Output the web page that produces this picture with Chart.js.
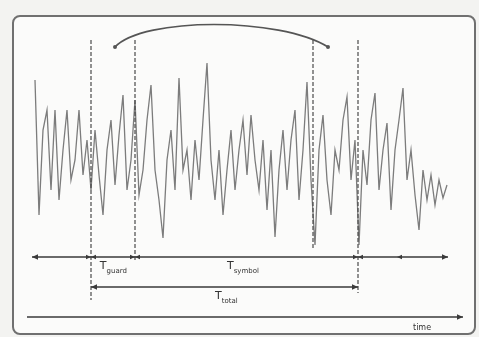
<!DOCTYPE html>
<html lang="en">
<head>
  <meta charset="UTF-8">
  <title>Guard interval</title>
  <script src="https://cdn.jsdelivr.net/npm/chart.js"></script>
  <style>
    body {
      margin: 0;
      background-color: #f3f3f1;
      width: 479px;
      height: 337px;
      overflow: hidden;
      position: relative;
    }

    .frame {
      position: absolute;
      left: 12px;
      top: 15px;
      width: 460px;
      height: 316px;
      border: 2px solid #707070;
      border-radius: 8px;
      background-color: #fbfbfa;
    }

    canvas {
      position: absolute;
      left: 0;
      top: 0;
    }
  </style>
</head>
<body>
  <div class="frame"></div>
  <canvas id="signalChart" width="479" height="337"></canvas>

  <script>
    // received signal samples (arbitrary amplitude), one per sample index
    const samples = [
      7.5, -6.0, 2.5, 4.5, -3.5, 4.5, -4.5, 0.5, 4.5, -2.5,
      -0.5, 4.5, -2.0, 1.5, -3.5, 2.5, -2.0, -6.0, 0.5, 3.5,
      -3.0, 2.0, 6.0, -3.5, -0.5, 5.5, -4.0, -1.5, 3.5, 7.0,
      -1.5, -4.5, -8.3, -0.5, 2.5, -3.5, 7.7, -1.5, 0.5, -4.5,
      1.5, -2.5, 3.5, 9.2, -0.5, -4.5, 0.5, -6.0, -1.5, 2.5,
      -3.5, 0.5, 3.5, -2.0, 4.0, -0.5, -3.5, 1.5, -5.5, 0.5,
      -8.2, -1.5, 2.5, -3.5, 1.5, 4.5, -4.5, 0.5, 7.3, -2.5,
      -9.0, 0.5, 4.0, -2.5, -6.0, 0.5, -1.5, 3.5, 5.8, -2.5,
      1.5, -9.0, 0.5, -3.0, 3.5, 6.2, -3.5, 0.5, 3.2, -5.5,
      0.5, 3.5, 6.7, -2.5, 0.5, -4.0, -7.5, -1.5, -4.5, -2.0,
      -5.0, -2.5, -4.3, -3.0
    ];

    // boundaries (in sample index): guard start, symbol start, copy start, symbol end
    const marks = [14, 25, 69.5, 80.75];
    const markBottoms = [-14.5, -10.7, -9.5, -13.8];

    // the copied part arc: from / to
    const arcEnds = [20, 73.25];

    const guardLabel = ['T', 'guard'];
    const symbolLabel = ['T', 'symbol'];
    const totalLabel = ['T', 'total'];
    const axisLabel = 'time';

    const points = samples.map((v, i) => ({ x: i, y: v }));

    function arrowHead(ctx, x, y, dir, size) {
      ctx.beginPath();
      ctx.moveTo(x, y);
      ctx.lineTo(x - dir * size, y - size * 0.45);
      ctx.lineTo(x - dir * size, y + size * 0.45);
      ctx.closePath();
      ctx.fill();
    }

    function subLabel(ctx, parts, x, y) {
      ctx.font = '11px "DejaVu Sans"';
      ctx.fillText(parts[0], x, y);
      const w = ctx.measureText(parts[0]).width;
      ctx.font = '7px "DejaVu Sans"';
      ctx.fillText(parts[1], x + w, y + 4);
    }

    const diagram = {
      id: 'diagram',
      afterDatasetsDraw(chart) {
        const ctx = chart.ctx;
        const xs = chart.scales.x;
        const ys = chart.scales.y;
        const px = v => xs.getPixelForValue(v);
        const py = v => ys.getPixelForValue(v);
        ctx.save();
        ctx.strokeStyle = '#4a4a4a';
        ctx.fillStyle = '#444';

        // dashed boundaries
        ctx.lineWidth = 1.2;
        ctx.setLineDash([4, 2]);
        marks.forEach((m, i) => {
          ctx.beginPath();
          ctx.moveTo(px(m), py(11.5));
          ctx.lineTo(px(m), py(markBottoms[i]));
          ctx.stroke();
        });
        ctx.setLineDash([]);

        // arc
        ctx.lineWidth = 1.6;
        ctx.strokeStyle = '#555';
        ctx.beginPath();
        ctx.moveTo(px(arcEnds[0]), py(10.8));
        ctx.bezierCurveTo(px(arcEnds[0] + 7), py(13.8), px(arcEnds[1] - 12), py(13.8), px(arcEnds[1]), py(10.8));
        ctx.stroke();
        ctx.fillStyle = '#555';
        ctx.beginPath();
        ctx.arc(px(arcEnds[0]), py(10.8), 2, 0, Math.PI * 2);
        ctx.arc(px(arcEnds[1]), py(10.8), 2, 0, Math.PI * 2);
        ctx.fill();

        // span arrows
        ctx.strokeStyle = '#3a3a3a';
        ctx.fillStyle = '#3a3a3a';
        ctx.lineWidth = 1.4;
        const r1 = py(-10.2);
        ctx.beginPath();
        ctx.moveTo(px(-0.75), r1);
        ctx.lineTo(px(103.25), r1);
        ctx.stroke();
        arrowHead(ctx, px(-0.75), r1, -1, 6);
        arrowHead(ctx, px(103.25), r1, 1, 6);
        arrowHead(ctx, px(marks[0]), r1, 1, 5);
        arrowHead(ctx, px(marks[0]), r1, -1, 5);
        arrowHead(ctx, px(marks[1]), r1, 1, 5);
        arrowHead(ctx, px(marks[1]), r1, -1, 5);
        arrowHead(ctx, px(marks[3]), r1, 1, 5);
        arrowHead(ctx, px(marks[3]), r1, -1, 5);
        arrowHead(ctx, px(90.5), r1, -1, 5);

        const r2 = py(-13.2);
        ctx.beginPath();
        ctx.moveTo(px(marks[0]), r2);
        ctx.lineTo(px(marks[3]), r2);
        ctx.stroke();
        arrowHead(ctx, px(marks[0]), r2, -1, 6);
        arrowHead(ctx, px(marks[3]), r2, 1, 6);

        const r3 = py(-16.2);
        ctx.beginPath();
        ctx.moveTo(px(-2), r3);
        ctx.lineTo(px(107), r3);
        ctx.stroke();
        arrowHead(ctx, px(107), r3, 1, 6);

        // labels
        ctx.fillStyle = '#333';
        ctx.textBaseline = 'alphabetic';
        subLabel(ctx, guardLabel, px(16.2), py(-11.4));
        subLabel(ctx, symbolLabel, px(48), py(-11.4));
        subLabel(ctx, totalLabel, px(45), py(-14.4));
        ctx.font = '8px "DejaVu Sans"';
        ctx.fillText(axisLabel, px(94.5), py(-17.5));
        ctx.restore();
      }
    };

    new Chart(document.getElementById('signalChart'), {
      type: 'line',
      data: {
        datasets: [{
          data: points,
          borderColor: '#7c7c7c',
          borderWidth: 1.3,
          pointRadius: 0,
          tension: 0,
          fill: false
        }]
      },
      options: {
        responsive: false,
        animation: false,
        layout: { padding: 0 },
        plugins: { legend: { display: false }, tooltip: { enabled: false } },
        scales: {
          x: { type: 'linear', min: -8.75, max: 111, display: false },
          y: { min: -18.2, max: 15.5, display: false }
        }
      },
      plugins: [diagram]
    });
  </script>
</body>
</html>
